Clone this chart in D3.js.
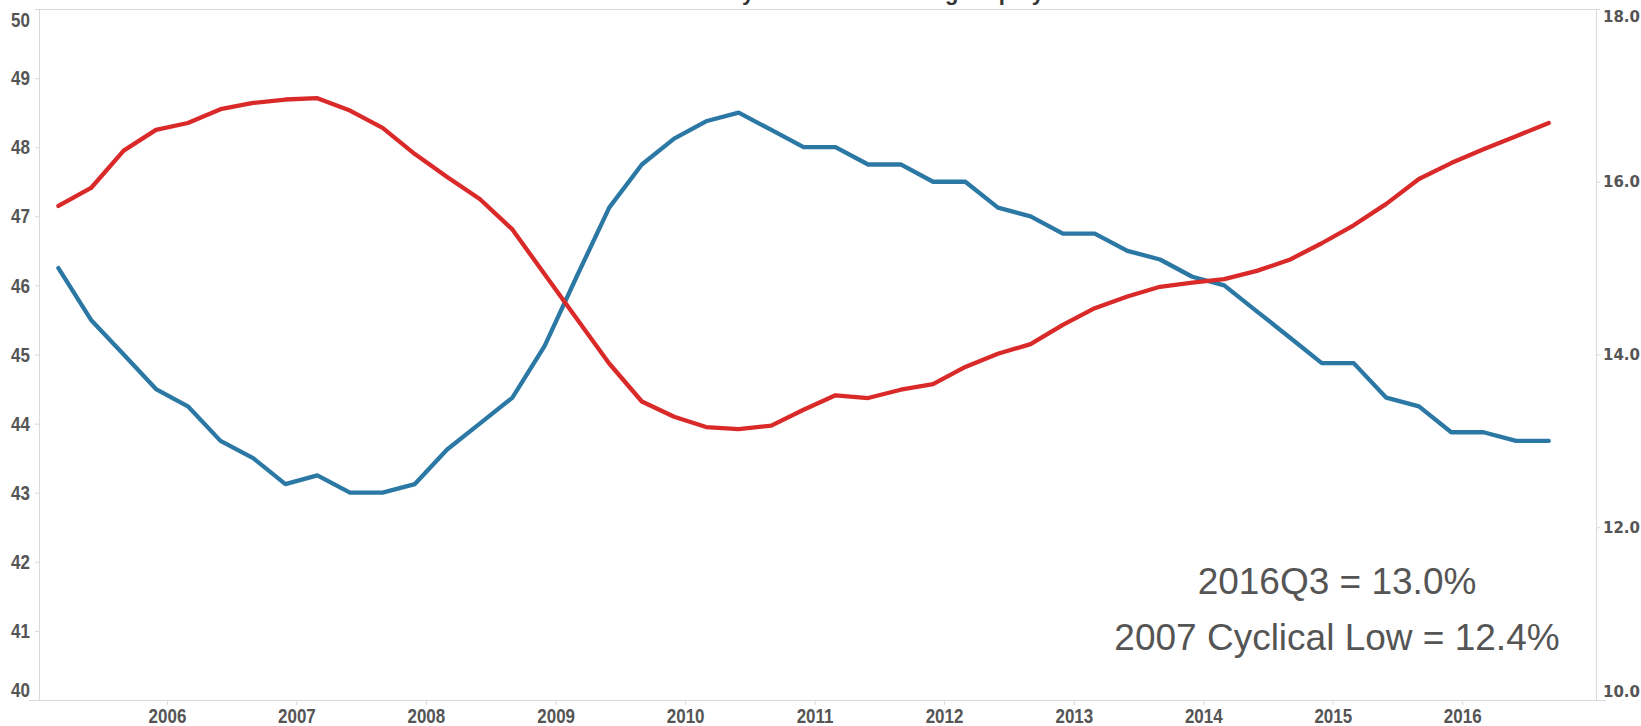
<!DOCTYPE html>
<html>
<head>
<meta charset="utf-8">
<script src="https://cdn.jsdelivr.net/npm/d3@7"></script>
<style>
  html, body { margin: 0; padding: 0; background: #fff; }
  svg { display: block; }
</style>
</head>
<body>
<svg id="chart" width="1641" height="726"></svg>
<script>
// Quarterly series, 2005Q1 – 2016Q3
const startYear = 2005;
const quarterCount = 47;

// Red series (left axis)
const redValues = [
  47.15, 47.41, 47.95, 48.25, 48.35, 48.55, 48.64, 48.69,
  48.71, 48.53, 48.28, 47.90, 47.57, 47.25, 46.81, 46.16,
  45.52, 44.87, 44.32, 44.10, 43.95, 43.92, 43.97, 44.20,
  44.41, 44.37, 44.49, 44.57, 44.82, 45.01, 45.15, 45.43,
  45.67, 45.84, 45.98, 46.04, 46.09, 46.21, 46.37, 46.61,
  46.87, 47.18, 47.54, 47.77, 47.97, 48.16, 48.35
];

// Blue series (right axis, percent)
const blueValues = [
  15.0, 14.4, 14.0, 13.6, 13.4, 13.0, 12.8, 12.5,
  12.6, 12.4, 12.4, 12.5, 12.9, 13.2, 13.5, 14.1,
  14.9, 15.7, 16.2, 16.5, 16.7, 16.8, 16.6, 16.4,
  16.4, 16.2, 16.2, 16.0, 16.0, 15.7, 15.6, 15.4,
  15.4, 15.2, 15.1, 14.9, 14.8, 14.5, 14.2, 13.9,
  13.9, 13.5, 13.4, 13.1, 13.1, 13.0, 13.0
];

const leftTicks = [40, 41, 42, 43, 44, 45, 46, 47, 48, 49, 50];
const rightTicks = [10, 12, 14, 16, 18];
const yearTicks = [2006, 2007, 2008, 2009, 2010, 2011, 2012, 2013, 2014, 2015, 2016];

const titleText = "Share of Workers by Job Tenure Among Employed";
const noteLines = ["2016Q3 = 13.0%", "2007 Cyclical Low = 12.4%"];

// each quarter is placed at its last month
const dates = d3.range(quarterCount).map(i =>
  new Date(startYear + Math.floor(i / 4), (i % 4) * 3 + 2, 1));

const svg = d3.select("#chart");
const plot = { left: 39, right: 1596, top: 9, bottom: 700 };

const x = d3.scaleTime()
  .domain([new Date(2005, 0, 1), new Date(2017, 0, 1)])
  .range([37.5, 1592]);
const yL = d3.scaleLinear().domain([40, 50]).range([plot.bottom, plot.top]);
const yR = d3.scaleLinear().domain([10, 18]).range([plot.bottom, plot.top]);

const grey = "#d9d9d9";
const labelColor = "#555555";
const sansFont = "'Liberation Sans', Arial, sans-serif";

// squeeze bold labels horizontally to get a narrow face
function narrow(sel, factor) {
  sel.each(function() {
    const len = this.getComputedTextLength();
    d3.select(this).attr("textLength", len * factor).attr("lengthAdjust", "spacingAndGlyphs");
  });
}

// title sits above the plot frame, so only its descenders reach the page
const title = svg.append("text")
  .attr("y", -0.5)
  .attr("font-family", sansFont)
  .attr("font-weight", "bold")
  .attr("font-size", 22)
  .attr("fill", "#333")
  .text(titleText);
{
  const node = title.node();
  const anchorIdx = titleText.indexOf("Among") + 4;
  title.attr("x", 945 - node.getSubStringLength(0, anchorIdx));
}

// top frame line
svg.append("line")
  .attr("x1", plot.left).attr("x2", plot.right)
  .attr("y1", plot.top + 0.5).attr("y2", plot.top + 0.5)
  .attr("stroke", grey);

// left axis
const leftAxis = d3.axisLeft(yL).tickValues(leftTicks).tickSize(4).tickPadding(5)
  .tickFormat(d3.format("d"));
const gL = svg.append("g").attr("transform", `translate(${plot.left},0)`).call(leftAxis);
gL.select(".domain").attr("stroke", grey);
gL.selectAll(".tick line").attr("stroke", grey);
gL.selectAll(".tick text")
  .attr("font-family", sansFont)
  .attr("font-weight", "bold")
  .attr("font-size", 19.5)
  .attr("fill", labelColor)
  .attr("dy", d => d === 50 ? "0.9em" : (d === 40 ? "-0.2em" : "0.34em"))
  .call(narrow, 0.87);

// right axis
const rightAxis = d3.axisRight(yR).tickValues(rightTicks).tickSize(4).tickPadding(3)
  .tickFormat(d3.format(".1f"));
const gR = svg.append("g").attr("transform", `translate(${plot.right},0)`).call(rightAxis);
gR.select(".domain").attr("stroke", grey);
gR.selectAll(".tick line").attr("stroke", grey);
gR.selectAll(".tick text")
  .attr("font-family", "'DejaVu Sans', Verdana, sans-serif")
  .attr("font-weight", "bold")
  .attr("font-size", 15)
  .attr("fill", labelColor)
  .attr("dy", d => d === 18 ? "0.85em" : (d === 10 ? "-0.25em" : "0.34em"));

// bottom axis
const bottomAxis = d3.axisBottom(x)
  .tickValues(yearTicks.map(y => new Date(y, 0, 1)))
  .tickSize(5).tickPadding(5)
  .tickFormat(d3.timeFormat("%Y"));
const gB = svg.append("g").attr("transform", `translate(0,${plot.bottom})`).call(bottomAxis);
gB.select(".domain").attr("d", `M${plot.left - 10},0.5H${plot.right + 10}`).attr("stroke", grey);
gB.selectAll(".tick line").attr("stroke", grey);
gB.selectAll(".tick text")
  .attr("font-family", sansFont)
  .attr("font-weight", "bold")
  .attr("font-size", 19.5)
  .attr("fill", labelColor)
  .attr("dy", "0.68em")
  .call(narrow, 0.87);

// series lines
const redLine = d3.line().x((d, i) => x(dates[i])).y(d => yL(d));
const blueLine = d3.line().x((d, i) => x(dates[i])).y(d => yR(d));

svg.append("path").datum(blueValues)
  .attr("d", blueLine)
  .attr("fill", "none").attr("stroke", "#2c78a5")
  .attr("stroke-width", 4.3).attr("stroke-linejoin", "round").attr("stroke-linecap", "round");

svg.append("path").datum(redValues)
  .attr("d", redLine)
  .attr("fill", "none").attr("stroke", "#d92a29")
  .attr("stroke-width", 4.3).attr("stroke-linejoin", "round").attr("stroke-linecap", "round");

// annotation
const note = svg.append("text")
  .attr("text-anchor", "middle")
  .attr("font-family", sansFont)
  .attr("font-size", 37)
  .attr("fill", "#555");
note.selectAll("tspan").data(noteLines).join("tspan")
  .attr("x", 1337)
  .attr("y", (d, i) => 594 + i * 56)
  .text(d => d);
</script>
</body>
</html>
